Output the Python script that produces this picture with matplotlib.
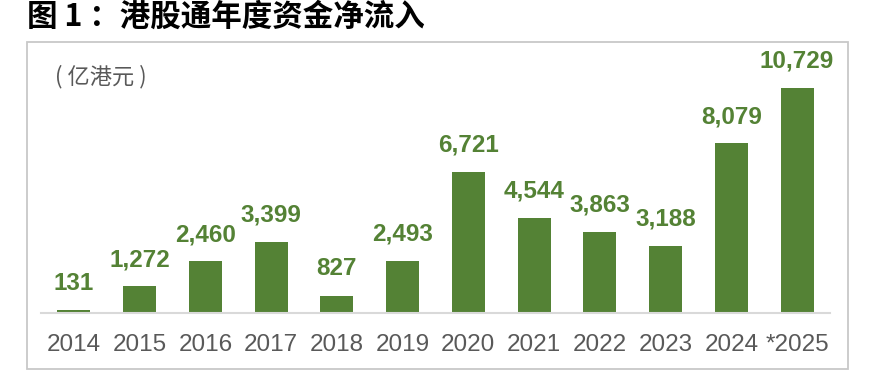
import matplotlib
matplotlib.use('Agg')
import matplotlib.pyplot as plt
from matplotlib.patches import Rectangle

# data
years = ['2014', '2015', '2016', '2017', '2018', '2019', '2020', '2021', '2022', '2023', '2024', '*2025']
inflow = [131, 1272, 2460, 3399, 827, 2493, 6721, 4544, 3863, 3188, 8079, 10729]
title = '图 1 ：港股通年度资金净流入'
unit = '( 亿港元 )'

green = '#548235'
grey = '#595959'
fonts = ['Liberation Sans', 'Noto Sans CJK SC', 'DejaVu Sans']
plt.rcParams['font.family'] = fonts

W, H = 878, 379
fig = plt.figure(figsize=(W / 100, H / 100), dpi=100)

# outer frame of the chart box
fig.patches.append(Rectangle((27 / W, 1 - 369 / H), (848 - 27) / W, (369 - 42) / H,
                             transform=fig.transFigure, fill=False,
                             edgecolor='#c8c8c8', linewidth=1.3))

ax = fig.add_axes([41 / W, 1 - 313 / H, (830 - 41) / W, (313 - 61) / H])
x = range(len(years))
bars = ax.bar(x, inflow, width=0.5, color=green)
ax.set_xlim(-0.5, len(years) - 0.5)
ax.set_ylim(0, 12000)

for b, v in zip(bars, inflow):
    ax.annotate(f'{v:,}', (b.get_x() + b.get_width() / 2, v), xytext=(0, 11),
                textcoords='offset points', ha='center', va='bottom',
                fontsize=17.5, fontweight='bold', color=green)

ax.set_xticks(list(x))
ax.set_xticklabels(years, fontsize=17.5, color=grey)
ax.tick_params(axis='x', length=0, pad=15)
ax.set_yticks([])
for s in ['top', 'right', 'left']:
    ax.spines[s].set_visible(False)
ax.spines['bottom'].set_color('#d9d9d9')
ax.spines['bottom'].set_linewidth(1.5)

fig.text(27 / W, 1 - 17 / H, title, fontsize=22, fontweight='bold', color='black',
         ha='left', va='center', family=['Noto Sans CJK SC', 'DejaVu Sans'])
fig.text(55 / W, 1 - 77 / H, unit, fontsize=16, color=grey, ha='left', va='center',
         family=['Noto Sans CJK SC', 'DejaVu Sans'])

fig.savefig('out.png', dpi=100)
